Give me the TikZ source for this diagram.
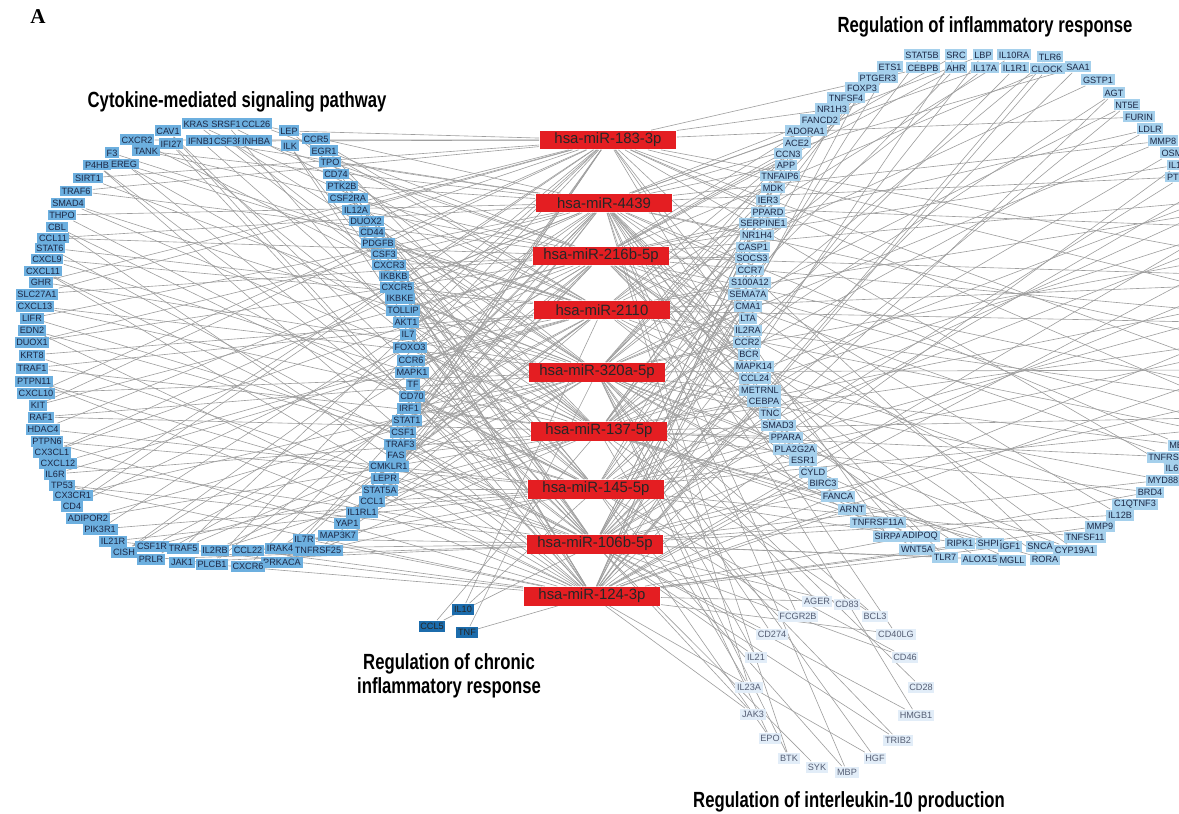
\documentclass[tikz,border=0pt]{standalone}
\usepackage{fontspec}
\usepackage{graphicx}
\setmainfont{Liberation Sans}
\newfontfamily\panelfont{Liberation Serif}
\usepackage{tikz}
\usetikzlibrary{backgrounds}

\definecolor{cytoblue}{RGB}{108,175,223}
\definecolor{inflblue}{RGB}{165,208,236}
\definecolor{iltenblue}{RGB}{226,237,248}
\definecolor{chronblue}{RGB}{28,108,172}
\definecolor{mirred}{RGB}{228,30,34}
\definecolor{linkgray}{RGB}{158,158,158}
\definecolor{genetext}{RGB}{28,40,70}

\newcommand{\grouptitle}[1]{\scalebox{0.76}[1]{#1}}

\begin{document}
\begin{tikzpicture}[x=0.02cm, y=-0.02cm,
    gene/.style={rectangle, inner xsep=1pt, inner ysep=0pt, minimum height=0.22cm,
                 font=\fontsize{5.2}{6}\selectfont, text=genetext},
    cyto/.style={gene, fill=cytoblue},
    infl/.style={gene, fill=inflblue},
    ilten/.style={gene, fill=iltenblue, text=genetext!75},
    chron/.style={gene, fill=chronblue, text=black!85},
    mirna/.style={rectangle, fill=mirred, minimum width=2.74cm, minimum height=0.38cm,
                  inner sep=0pt, font=\fontsize{8.5}{10}\selectfont, text=black!85},
    link/.style={linkgray, line width=0.35pt},
    grouplabel/.style={font=\fontsize{12.5}{14}\selectfont\bfseries, align=center}
]
\useasboundingbox (0,0) rectangle (1179,814);

% microRNAs in the middle
\foreach \n/\x/\y [count=\k] in {183-3p/608/140, 4439/604/203, 216b-5p/601/256,
                                 2110/602/310, 320a-5p/597/372, 137-5p/599/431,
                                 145-5p/596/489, 106b-5p/595/544, 124-3p/592/596}
    \node[mirna] (m\k) at (\x,\y) {hsa-miR-\n};

% cytokine-mediated signaling pathway (left ring)
\foreach \g/\x/\y [count=\k] in {CXCR2/137/140, CAV1/168/131, KRAS/196/124, SRSF1/226/124,
        CCL26/256/124, IFI27/171/144, IFNB1/201/141, CSF3R/229/141, INHBA/256/141,
        LEP/289/131, ILK/290/146, CCR5/316/139, EGR1/324/151, TPO/330/162, CD74/336/174,
        PTK2B/342/186, CSF2RA/348/198, IL12A/356/210, DUOX2/366/221, CD44/372/232,
        PDGFB/378/243, CSF3/384/254, CXCR3/389/265, IKBKB/394/276, CXCR5/397/287,
        IKBKE/400/298, TOLLIP/403/310, AKT1/406/322, IL7/408/334, FOXO3/410/347,
        CCR6/411/360, MAPK1/412/372, TF/413/384, CD70/412/396, IRF1/409/408,
        STAT1/407/420, CSF1/403/432, TRAF3/400/444, FAS/396/455, CMKLR1/389/466,
        LEPR/385/478, STAT5A/380/490, CCL1/372/501, IL1RL1/362/512, YAP1/347/523,
        MAP3K7/338/535, IL7R/304/539, TNFRSF25/318/550, IRAK4/280/548, PRKACA/282/562,
        CCL22/248/550, CXCR6/248/566, IL2RB/215/550, PLCB1/212/564, TRAF5/183/548,
        JAK1/182/562, CSF1R/152/546, PRLR/151/559, CISH/124/552, IL21R/113/541,
        PIK3R1/100/529, ADIPOR2/88/518, CD4/72/506, CX3CR1/73/495, TP53/62/485,
        IL6R/55/474, CXCL12/58/463, CX3CL1/52/452, PTPN6/47/441, HDAC4/43/429,
        RAF1/41/417, KIT/38/405, CXCL10/36/393, PTPN11/34/381, TRAF1/32/368,
        KRT8/32/355, DUOX1/32/342, EDN2/32/330, LIFR/32/318, CXCL13/35/306,
        SLC27A1/37/294, GHR/41/282, CXCL11/43/271, CXCL9/47/259, STAT6/50/248,
        CCL11/53/238, CBL/57/227, THPO/62/215, SMAD4/68/203, TRAF6/76/191,
        SIRT1/88/178, P4HB/97/165, EREG/124/164, F3/112/153, TANK/146/151} {
    \node[cyto] (cy\k) at (\x,\y) {\g};
    \pgfmathtruncatemacro\a{mod(\k*4,9)+1}
    \pgfmathtruncatemacro\b{mod(\k*7+2,9)+1}
    \begin{pgfonlayer}{background}
        \draw[link] (cy\k) -- (m\a) (cy\k) -- (m\b);
    \end{pgfonlayer}
}

% regulation of inflammatory response (right ring)
\foreach \g/\x/\y [count=\k] in {STAT5B/922/55, SRC/956/55, LBP/983/55, IL10RA/1014/55,
        TLR6/1050/57, ETS1/890/67, CEBPB/923/68, AHR/956/68, IL17A/985/68, IL1R1/1015/68,
        CLOCK/1047/69, SAA1/1078/67, GSTP1/1098/80, AGT/1114/93, NT5E/1127/105,
        FURIN/1139/117, LDLR/1150/129, MMP8/1163/141, OSM/1172/153, IL1B/1178/165,
        PTGS2/1182/177, PTGER3/878/78, FOXP3/862/88, TNFSF4/846/98, NR1H3/832/109,
        FANCD2/820/120, ADORA1/806/131, ACE2/797/143, CCN3/788/154, APP/786/165,
        TNFAIP6/780/176, MDK/773/188, IER3/768/200, PPARD/768/212, SERPINE1/763/223,
        NR1H4/757/235, CASP1/753/247, SOCS3/752/258, CCR7/750/270, S100A12/750/282,
        SEMA7A/748/294, CMA1/748/306, LTA/748/318, IL2RA/748/330, CCR2/747/342,
        BCR/749/354, MAPK14/754/366, CCL24/755/378, METRNL/760/390, CEBPA/764/401,
        TNC/770/413, SMAD3/778/425, PPARA/786/437, PLA2G2A/795/449, ESR1/803/460,
        CYLD/813/472, BIRC3/823/483, FANCA/838/496, ARNT/852/509, TNFRSF11A/878/522,
        SIRPA/888/536, ADIPOQ/920/536, WNT5A/917/549, RIPK1/960/543, SHPK/990/543,
        TLR7/945/557, ALOX15/980/559, IGF1/1010/546, MGLL/1012/560, SNCA/1040/546,
        RORA/1045/559, CYP19A1/1075/550, TNFSF11/1085/537, MMP9/1100/526,
        IL12B/1120/515, C1QTNF3/1135/504, BRD4/1150/492, MYD88/1163/480,
        IL6/1172/468, TNFRSF1A/1172/457, MEFV/1182/445} {
    \node[infl] (in\k) at (\x,\y) {\g};
    \pgfmathtruncatemacro\a{mod(\k*5+1,9)+1}
    \pgfmathtruncatemacro\b{mod(\k*2+4,9)+1}
    \begin{pgfonlayer}{background}
        \draw[link] (in\k) -- (m\a) (in\k) -- (m\b);
    \end{pgfonlayer}
}

% rest of the right ring, beyond the frame
\foreach \y [count=\k] in {190,202,...,436} {
    \coordinate (off\k) at (1200,\y);
    \pgfmathtruncatemacro\a{mod(\k*4+3,9)+1}
    \pgfmathtruncatemacro\b{mod(\k*7,9)+1}
    \begin{pgfonlayer}{background}
        \draw[link] (off\k) -- (m\a) (off\k) -- (m\b);
    \end{pgfonlayer}
}

% regulation of interleukin-10 production (bottom)
\foreach \g/\x/\y [count=\k] in {AGER/817/601, CD83/847/604, FCGR2B/798/616, BCL3/875/616,
        CD274/772/634, CD40LG/896/634, IL21/756/657, CD46/905/657, IL23A/749/687,
        CD28/921/687, JAK3/753/714, HMGB1/916/715, EPO/770/738, TRIB2/898/740,
        BTK/789/758, HGF/875/758, SYK/817/767, MBP/847/772} {
    \node[ilten] (il\k) at (\x,\y) {\g};
    \pgfmathtruncatemacro\a{mod(\k*4,5)+5}
    \pgfmathtruncatemacro\b{mod(\k*3+1,9)+1}
    \begin{pgfonlayer}{background}
        \draw[link] (il\k) -- (m\a) (il\k) -- (m\b);
    \end{pgfonlayer}
}

% regulation of chronic inflammatory response
\foreach \g/\x/\y/\a/\b [count=\k] in {IL10/463/609/7/4, CCL5/432/626/8/6, TNF/467/632/9/5} {
    \node[chron] (ch\k) at (\x,\y) {\g};
    \begin{pgfonlayer}{background}
        \draw[link] (ch\k) -- (m\a) (ch\k) -- (m\b);
    \end{pgfonlayer}
}

% titles
\node[font=\panelfont\fontsize{12}{14}\selectfont\bfseries] (panel) at (38,17) {A};
\node[grouplabel] (t-cyto)  at (237,102) {\grouptitle{Cytokine-mediated signaling pathway}};
\node[grouplabel] (t-infl)  at (985,27)  {\grouptitle{Regulation of inflammatory response}};
\node[grouplabel] (t-chron) at (449,676) {\grouptitle{Regulation of chronic}\\\grouptitle{inflammatory response}};
\node[grouplabel] (t-ilten) at (849,802) {\grouptitle{Regulation of interleukin-10 production}};
\end{tikzpicture}
\end{document}
